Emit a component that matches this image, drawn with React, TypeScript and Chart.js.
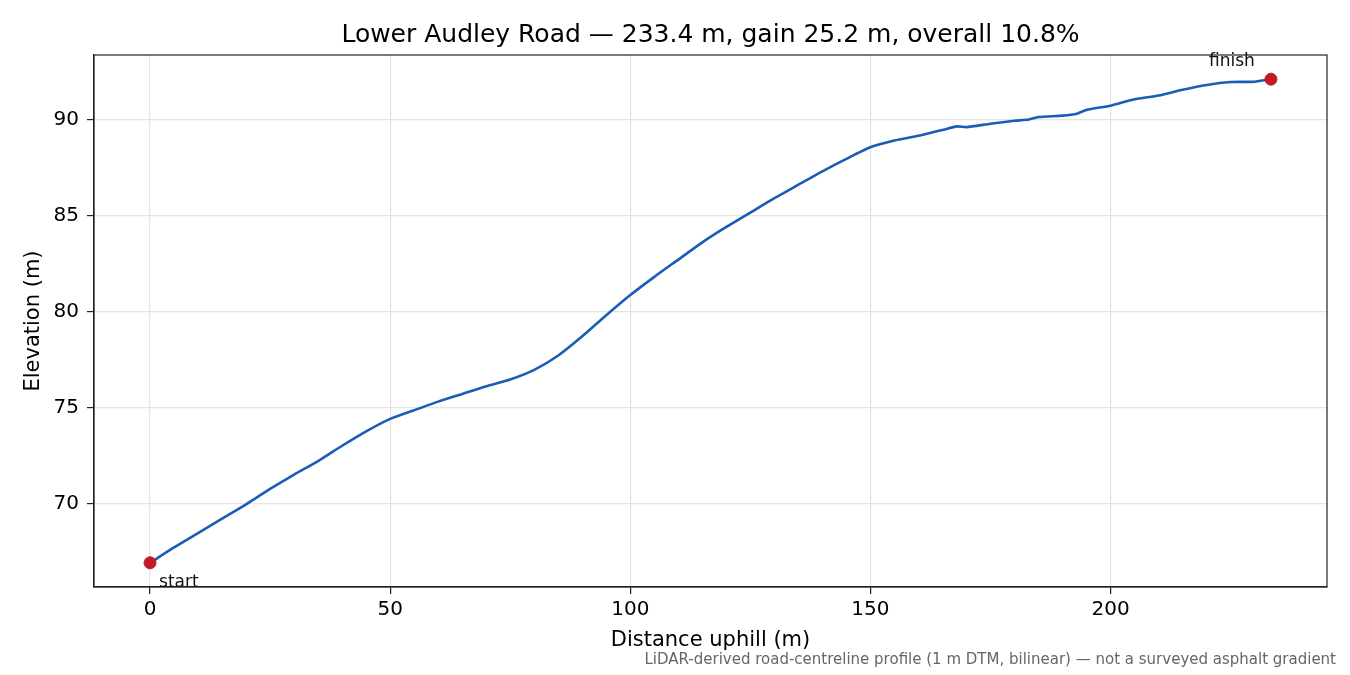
import React, { useEffect, useRef } from "react";
import { Chart, registerables } from "chart.js";

Chart.register(...registerables);

// distance along the road (m) and the LiDAR elevation (m)
const distances = [
	0, 5, 10, 15, 20, 25, 30, 35, 40, 45, 50, 55, 60, 65, 70, 75, 80, 85, 90,
	95, 100, 105, 110, 115, 120, 125, 130, 135, 140, 145, 150, 155, 160, 165,
	168, 170, 175, 180, 183, 185, 190, 193, 195, 200, 205, 210, 215, 220, 225,
	230, 233.4,
];
const elevations = [
	66.9, 67.7, 68.45, 69.2, 69.95, 70.75, 71.5, 72.2, 73.0, 73.75, 74.4, 74.85,
	75.3, 75.7, 76.1, 76.45, 76.95, 77.7, 78.7, 79.8, 80.85, 81.8, 82.7, 83.6,
	84.4, 85.15, 85.9, 86.6, 87.3, 87.95, 88.55, 88.9, 89.15, 89.45, 89.64,
	89.6, 89.78, 89.93, 90.0, 90.13, 90.2, 90.3, 90.5, 90.72, 91.05, 91.25,
	91.55, 91.8, 91.95, 91.97, 92.1,
];
const endpointLabels = ["start", "finish"];
const xTicks = [0, 50, 100, 150, 200];
const yTicks = [70, 75, 80, 85, 90];

const titleText = "Lower Audley Road — 233.4 m, gain 25.2 m, overall 10.8%";
const footnote =
	"LiDAR-derived road-centreline profile (1 m DTM, bilinear) — not a surveyed asphalt gradient";

const FONT = "'DejaVu Sans', sans-serif";

const App: React.FC = () => {
	const chartRef = useRef<HTMLCanvasElement>(null);

	useEffect(() => {
		if (!chartRef.current) return;

		const points = distances.map((d, i) => ({ x: d, y: elevations[i] }));
		const last = points.length - 1;
		const ends = [points[0], points[last]];

		const xSpan = distances[last] - distances[0];
		const ySpan = elevations[last] - elevations[0];

		// frame, title, endpoint labels and note
		const decorations = {
			id: "decorations",
			afterDraw(chart: any) {
				const { ctx, chartArea, scales } = chart;
				ctx.save();
				ctx.strokeStyle = "#222";
				ctx.lineWidth = 1.2;
				ctx.strokeRect(
					chartArea.left,
					chartArea.top,
					chartArea.right - chartArea.left,
					chartArea.bottom - chartArea.top
				);

				ctx.fillStyle = "#000";
				ctx.font = `25px ${FONT}`;
				ctx.textAlign = "center";
				ctx.textBaseline = "middle";
				ctx.fillText(titleText, (chartArea.left + chartArea.right) / 2, 35);

				ctx.font = `17px ${FONT}`;
				ctx.fillStyle = "#111";
				const sx = scales.x.getPixelForValue(ends[0].x);
				const sy = scales.y.getPixelForValue(ends[0].y);
				ctx.textAlign = "left";
				ctx.fillText(endpointLabels[0], sx + 9, sy + 20);
				const fx = scales.x.getPixelForValue(ends[1].x);
				const fy = scales.y.getPixelForValue(ends[1].y);
				ctx.textAlign = "center";
				ctx.fillText(endpointLabels[1], fx - 39, fy - 18);

				ctx.font = `15px ${FONT}`;
				ctx.fillStyle = "#666";
				ctx.textAlign = "right";
				ctx.fillText(footnote, 1336, 660);
				ctx.restore();
			},
		};

		const chartInstance = new Chart(chartRef.current, {
			type: "line",
			data: {
				datasets: [
					{
						data: points,
						borderColor: "#1a5db4",
						borderWidth: 2.6,
						pointRadius: 0,
						tension: 0.2,
						order: 2,
					},
					{
						data: ends,
						showLine: false,
						pointRadius: 6,
						pointBackgroundColor: "#c41a28",
						pointBorderColor: "#c41a28",
						order: 1,
					},
				],
			},
			options: {
				animation: false,
				responsive: false,
				devicePixelRatio: 1,
				layout: { padding: { top: 55, right: 23, left: 0, bottom: 0 } },
				plugins: {
					legend: { display: false },
					title: { display: false },
					tooltip: { enabled: false },
				},
				scales: {
					x: {
						type: "linear",
						min: distances[0] - xSpan * 0.05,
						max: distances[last] + xSpan * 0.05,
						afterBuildTicks: (s: any) => {
							s.ticks = xTicks.map(v => ({ value: v }));
						},
						afterFit: (s: any) => {
							s.height = 88;
						},
						grid: {
							color: "#e4e4e4",
							lineWidth: 1.2,
							tickColor: "#222",
							tickLength: 7,
						},
						border: { color: "#222", width: 1.2 },
						ticks: {
							color: "#000",
							padding: 4,
							maxRotation: 0,
							font: { family: FONT, size: 20 },
						},
						title: {
							display: true,
							text: "Distance uphill (m)",
							color: "#000",
							font: { family: FONT, size: 21 },
							padding: { top: 0, bottom: 22 },
						},
					},
					y: {
						type: "linear",
						min: elevations[0] - ySpan * 0.05,
						max: elevations[last] + ySpan * 0.05,
						afterBuildTicks: (s: any) => {
							s.ticks = yTicks.map(v => ({ value: v }));
						},
						afterFit: (s: any) => {
							s.width = 94;
						},
						grid: {
							color: "#e4e4e4",
							lineWidth: 1.2,
							tickColor: "#222",
							tickLength: 7,
						},
						border: { color: "#222", width: 1.2 },
						ticks: {
							color: "#000",
							padding: 8,
							font: { family: FONT, size: 20 },
						},
						title: {
							display: true,
							text: "Elevation (m)",
							color: "#000",
							font: { family: FONT, size: 21 },
							padding: { top: 21, bottom: 0 },
						},
					},
				},
			},
			plugins: [decorations],
		} as any);

		return () => {
			chartInstance.destroy();
		};
	}, []);

	return (
		<div style={{ position: "absolute", left: 0, top: 0, width: 1350, height: 675, background: "#fff" }}>
			<canvas ref={chartRef} width={1350} height={675} />
		</div>
	);
};

export default App;
